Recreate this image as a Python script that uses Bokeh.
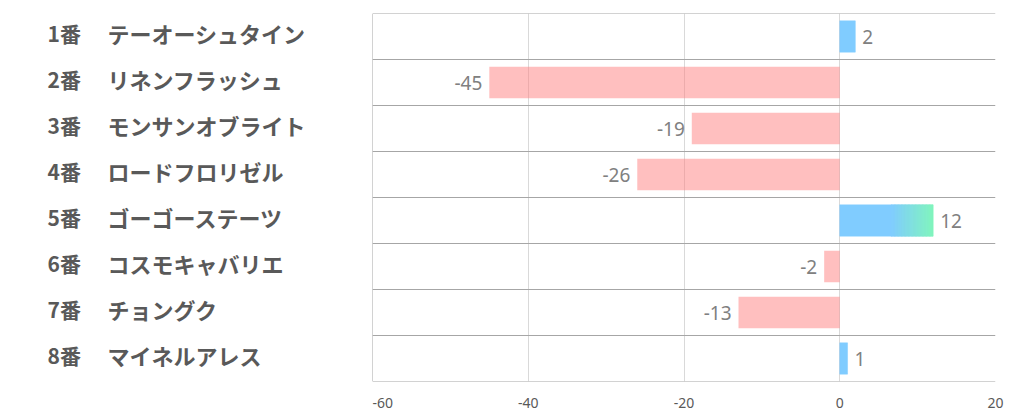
from bokeh.plotting import figure
from bokeh.models import Range1d, FixedTicker, Span, ColumnDataSource
from bokeh.layouts import row
from bokeh.core.properties import value
from bokeh.embed import file_html
from bokeh.resources import INLINE

numbers = ["1番", "2番", "3番", "4番", "5番", "6番", "7番", "8番"]
names = ["テーオーシュタイン", "リネンフラッシュ", "モンサンオブライト", "ロードフロリゼル",
         "ゴーゴーステーツ", "コスモキャバリエ", "チョングク", "マイネルアレス"]
values = [2, -45, -19, -26, 12, -2, -13, 1]
x_ticks = [-60, -40, -20, 0, 20]

X_MIN, X_MAX = -60, 20
n = len(values)
ypos = [i + 0.5 for i in range(n)]

BLUE = (0x80, 0xCC, 0xFF)
GREEN = (0x80, 0xF5, 0xBE)
PINK = "#ff7f7f"

y_range = Range1d(n, 0)

# ---- label panel ----
lab = figure(width=372, height=417, x_range=Range1d(0, 372), y_range=y_range,
             toolbar_location=None, output_backend="svg",
             min_border_left=0, min_border_right=0, min_border_top=13, min_border_bottom=36)
lab.axis.visible = False
lab.grid.visible = False
lab.outline_line_color = None
lab.text(x=[47] * n, y=ypos, text=numbers, text_baseline="middle", text_align="left",
         y_offset=-4,
         text_font=value("Noto Sans CJK JP"), text_font_style="bold",
         text_font_size="21px", text_color="#595959")
lab.text(x=[107] * n, y=ypos, text=names, text_baseline="middle", text_align="left",
         y_offset=-4,
         text_font=value("Noto Sans CJK JP"), text_font_style="bold",
         text_font_size="22px", text_color="#595959")

# ---- chart ----
p = figure(width=650, height=417, x_range=Range1d(X_MIN, X_MAX), y_range=y_range,
           toolbar_location=None, output_backend="svg",
           min_border_left=0, min_border_right=27, min_border_top=13, min_border_bottom=36)
p.outline_line_color = None
p.yaxis.visible = False
p.xaxis.ticker = FixedTicker(ticks=x_ticks)
p.xaxis.major_label_overrides = {t: str(t) for t in x_ticks}
p.xaxis.axis_line_color = None
p.xaxis.major_tick_line_color = None
p.xaxis.minor_tick_line_color = None
p.xaxis.major_label_standoff = 10
p.xaxis.major_label_text_font = "Noto Sans"
p.xaxis.major_label_text_font_size = "14px"
p.xaxis.major_label_text_color = "#595959"

p.xgrid.ticker = FixedTicker(ticks=x_ticks)
p.xgrid.grid_line_color = "#d9d9d9"
p.ygrid.ticker = FixedTicker(ticks=list(range(n + 1)))
p.ygrid.grid_line_color = "#a6a6a6"

p.add_layout(Span(location=X_MIN, dimension="height", line_color="#a6a6a6", line_width=1))
p.add_layout(Span(location=0, dimension="width", line_color="#a6a6a6", line_width=1))
p.add_layout(Span(location=n, dimension="width", line_color="#a6a6a6", line_width=1))

BAR_H = 0.68

neg = [(y, v) for y, v in zip(ypos, values) if v < 0]
pos = [(y, v) for y, v in zip(ypos, values) if v >= 0]

p.hbar(y=[a for a, _ in neg], left=0, right=[b for _, b in neg], height=BAR_H,
       fill_color=PINK, fill_alpha=0.5, line_color=None)

# positive bars: solid blue, large ones fade to green towards the end
segs = dict(y=[], left=[], right=[], color=[])
for y, v in pos:
    if v >= 10:
        start = 0.55
        N = 30
        segs["y"].append(y); segs["left"].append(0); segs["right"].append(v * start + 0.1)
        segs["color"].append("#%02x%02x%02x" % BLUE)
        for k in range(N):
            t = (k + 0.5) / N
            c = tuple(int(round(BLUE[j] + (GREEN[j] - BLUE[j]) * t)) for j in range(3))
            r = v * (start + (1 - start) * (k + 1) / N)
            segs["y"].append(y)
            segs["left"].append(v * (start + (1 - start) * k / N))
            segs["right"].append(r + (0.1 if k < N - 1 else 0))
            segs["color"].append("#%02x%02x%02x" % c)
    else:
        segs["y"].append(y); segs["left"].append(0); segs["right"].append(v)
        segs["color"].append("#%02x%02x%02x" % BLUE)
p.hbar(y="y", left="left", right="right", height=BAR_H, fill_color="color",
       line_color="color", line_width=0.5, source=ColumnDataSource(segs))

p.text(x=[b for _, b in pos], y=[a for a, _ in pos], text=[str(b) for _, b in pos],
       x_offset=7, text_baseline="middle", text_align="left",
       text_font=value("Noto Sans"), text_font_size="19px", text_color="#808080")
p.text(x=[b for _, b in neg], y=[a for a, _ in neg], text=[str(b) for _, b in neg],
       x_offset=-7, text_baseline="middle", text_align="right",
       text_font=value("Noto Sans"), text_font_size="19px", text_color="#808080")

layout = row(lab, p)
open("out.html", "w").write(file_html(layout, INLINE))
